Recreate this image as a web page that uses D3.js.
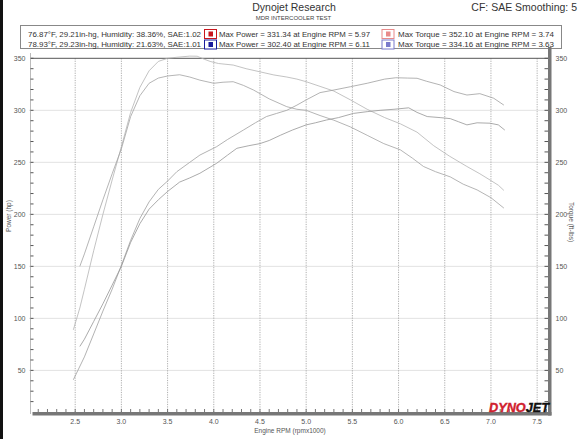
<!DOCTYPE html>
<html><head><meta charset="utf-8">
<script src="https://cdn.jsdelivr.net/npm/d3@7"></script>
<style>body{margin:0;background:#fff}svg{display:block}</style>
</head><body>
<svg id="c" width="580" height="439"></svg>
<script>
// ---- data ----
const run1TorqueRpm = [2.48,2.55,2.6,2.7,2.8,2.9,3.0,3.1,3.2,3.3,3.4,3.5,3.6,3.74,3.82,3.9,3.96,4.05,4.21,4.35,4.5,4.65,4.79,4.9,5.0,5.15,5.3,5.48,5.66,5.85,6.02,6.2,6.38,6.55,6.74,6.88,6.99,7.08,7.14];
const run1Torque    = [89,110,128,165,200,233,265,298,322,338,347,350,351,352.1,352,349,347,345,343.5,340,337,334,332,330,327.5,323,318.5,310,301,293,287,279,266,256,246,239,233,228,223];
const run1PowerRpm  = [2.48,2.6,2.7,2.8,2.9,3.0,3.1,3.2,3.3,3.4,3.5,3.6,3.74,3.85,4.03,4.15,4.32,4.45,4.57,4.68,4.79,4.9,5.0,5.15,5.3,5.48,5.66,5.85,5.97,6.1,6.2,6.3,6.45,6.6,6.74,6.88,7.03,7.14];
const run1Power     = [41,63,85,107,128,151,175,196,212,224,232,241,250,257,265,272,281,288,294,297,300,305,310,317,319.5,322.7,326,330,331.3,331,330.8,328,324.4,318,314.7,316,311.6,305];
const run2TorqueRpm = [2.55,2.6,2.7,2.8,2.9,3.0,3.1,3.2,3.3,3.4,3.5,3.63,3.74,3.85,4.0,4.1,4.21,4.32,4.43,4.6,4.79,4.9,5.0,5.15,5.3,5.48,5.66,5.84,6.02,6.15,6.27,6.4,6.56,6.7,6.85,7.0,7.14];
const run2Torque    = [150,162,188,214,239,263,294,314,326,331,333,334.2,332,329,326,327,327.5,324,319.5,311,303.5,301,300,295,290.5,284,276,268,262,254,246,241,236,229,223.5,216,206];
const run2PowerRpm  = [2.55,2.6,2.7,2.8,2.9,3.0,3.1,3.2,3.3,3.4,3.5,3.63,3.74,3.85,4.03,4.15,4.25,4.38,4.5,4.6,4.72,4.85,5.0,5.1,5.22,5.35,5.51,5.66,5.8,5.95,6.11,6.2,6.31,6.45,6.56,6.65,6.74,6.85,6.99,7.08,7.15];
const run2Power     = [73,80,97,114,132,150,173,191,205,214,222,231,235,239.5,249,257,263.5,266,268,271,276,281,286,288,290.7,293,297,298.7,300,301,302.4,298,294,293,292,289,286,288,287.6,286,281];
const xTicks = [2.5,3.0,3.5,4.0,4.5,5.0,5.5,6.0,6.5,7.0,7.5];
const yTicks = [50,100,150,200,250,300,350];
const legendConditions = ["76.87°F, 29.21in-hg, Humidity: 38.36%, SAE:1.02","78.93°F, 29.23in-hg, Humidity: 21.63%, SAE:1.01"];
const legendPower = ["Max Power = 331.34 at Engine RPM = 5.97","Max Power = 302.40 at Engine RPM = 6.11"];
const legendTorque = ["Max Torque = 352.10 at Engine RPM = 3.74","Max Torque = 334.16 at Engine RPM = 3.63"];
const powerColors = ["#c8161d","#1a1a9c"];
const torqueColors = ["#e88a8a","#7a7acc"];

const svg = d3.select("#c");
const F = "'Liberation Sans', Arial, sans-serif";
const x = d3.scaleLinear().domain([2.0,7.65]).range([29,551]);
const y = d3.scaleLinear().domain([10,350]).range([412,58.3]);

// frame strip
svg.append("rect").attr("x",0).attr("y",0).attr("width",3).attr("height",439).attr("fill","#111");

// header
svg.append("text").attr("x",294).attr("y",10.5).attr("text-anchor","middle").attr("font-family",F).attr("font-size",10.5).attr("fill","#333").text("Dynojet Research");
svg.append("text").attr("x",293.5).attr("y",19.5).attr("text-anchor","middle").attr("font-family",F).attr("font-size",6).attr("fill","#444").text("MDR INTERCOOLER TEST");
svg.append("text").attr("x",577).attr("y",10.5).attr("text-anchor","end").attr("font-family",F).attr("font-size",10.5).attr("fill","#333").text("CF: SAE Smoothing: 5");

// legend
svg.append("rect").attr("x",20.5).attr("y",25.5).attr("width",541).attr("height",23).attr("fill","#fff").attr("stroke","#888");
[0,1].forEach(i=>{
  const cy = 34 + i*10.5;
  svg.append("text").attr("x",28).attr("y",cy+2.5).attr("font-family",F).attr("font-size",7.3).attr("fill","#333")
    .attr("textLength",173).attr("lengthAdjust","spacingAndGlyphs").text(legendConditions[i]);
  [[204.5,powerColors[i],legendPower[i],219,151],[382,torqueColors[i],legendTorque[i],398,156]].forEach(([bx,col,txt,tx,tl])=>{
    svg.append("rect").attr("x",bx).attr("y",cy-4.5).attr("width",12).attr("height",9).attr("fill","#fff").attr("stroke",col).attr("stroke-width",1);
    svg.append("rect").attr("x",bx+4).attr("y",cy-2.5).attr("width",4.5).attr("height",5).attr("fill",col);
    svg.append("text").attr("x",tx).attr("y",cy+2.5).attr("font-family",F).attr("font-size",7.3).attr("fill","#333")
      .attr("textLength",tl).attr("lengthAdjust","spacingAndGlyphs").text(txt);
  });
});

// horizontal gridlines
svg.append("g").selectAll("line").data(yTicks.filter(v=>v<350)).join("line")
  .attr("x1",x(2.0)).attr("x2",x(7.65)).attr("y1",d=>y(d)).attr("y2",d=>y(d))
  .attr("stroke","#e2e2e2").attr("stroke-width",1);
// vertical dotted gridlines
svg.append("g").selectAll("line").data(xTicks).join("line")
  .attr("x1",d=>x(d)).attr("x2",d=>x(d)).attr("y1",y(350)).attr("y2",y(10))
  .attr("stroke","#999").attr("stroke-width",0.8).attr("stroke-dasharray","1.2,1.2");
// top line at 350
svg.append("line").attr("x1",x(2.0)+1).attr("x2",x(7.65)).attr("y1",y(350)).attr("y2",y(350)).attr("stroke","#555").attr("stroke-width",1);

// curves
const line = d3.line().x(d=>x(d[0])).y(d=>y(d[1]));
const zip = (a,b)=>a.map((v,i)=>[v,b[i]]);
const series = [
  [zip(run1TorqueRpm,run1Torque),"#b4b4b4",0.8],
  [zip(run2TorqueRpm,run2Torque),"#a2a2a2",0.8],
  [zip(run1PowerRpm,run1Power),"#a0a0a0",0.8],
  [zip(run2PowerRpm,run2Power),"#959595",0.8]
];
series.forEach(([d,c,w])=>{
  svg.append("path").datum(d).attr("d",line).attr("fill","none").attr("stroke",c).attr("stroke-width",w);
});

// left axis
svg.append("line").attr("x1",30.5).attr("x2",30.5).attr("y1",53).attr("y2",414).attr("stroke","#bbb").attr("stroke-width",1);
const minorY = d3.range(20,351,10);
svg.append("g").selectAll("line").data(minorY).join("line")
  .attr("x1",30.5).attr("x2",33.5).attr("y1",d=>y(d)).attr("y2",d=>y(d)).attr("stroke","#555").attr("stroke-width",1);
svg.append("g").selectAll("text").data(yTicks).join("text")
  .attr("x",25.5).attr("y",d=>y(d)+2.5).attr("text-anchor","end").attr("font-family",F).attr("font-size",7).attr("fill","#555").text(d=>d);
svg.append("text").attr("transform",`translate(10.5,216) rotate(-90)`).attr("text-anchor","middle").attr("font-family",F).attr("font-size",6.5).attr("fill","#555").text("Power (hp)");

// right axis
svg.append("g").selectAll("line").data(minorY).join("line")
  .attr("x1",544.5).attr("x2",548).attr("y1",d=>y(d)).attr("y2",d=>y(d)).attr("stroke","#555").attr("stroke-width",1);
svg.append("rect").attr("x",548).attr("y",47).attr("width",3.5).attr("height",368.5).attr("fill","#777");
svg.append("g").selectAll("text").data(yTicks).join("text")
  .attr("x",555.5).attr("y",d=>y(d)+2.5).attr("font-family",F).attr("font-size",7).attr("fill","#555").text(d=>d);
svg.append("text").attr("transform",`translate(569,222) rotate(90)`).attr("text-anchor","middle").attr("font-family",F).attr("font-size",6.5).attr("fill","#555").text("Torque (ft-lbs)");

// bottom axis
const minorX = d3.range(21,77,1).map(v=>v/10);
svg.append("g").selectAll("line").data(minorX).join("line")
  .attr("x1",d=>x(d)).attr("x2",d=>x(d)).attr("y1",409).attr("y2",412.5).attr("stroke","#666").attr("stroke-width",0.9);
svg.append("rect").attr("x",32.5).attr("y",412).attr("width",519).attr("height",3.5).attr("fill","#777");
svg.append("g").selectAll("text").data(xTicks).join("text")
  .attr("x",d=>x(d)).attr("y",424).attr("text-anchor","middle").attr("font-family",F).attr("font-size",7).attr("fill","#555").text(d=>d.toFixed(1));
svg.append("text").attr("x",290).attr("y",432.5).attr("text-anchor","middle").attr("font-family",F).attr("font-size",6.5).attr("fill","#555").text("Engine RPM (rpmx1000)");

// logo
const logo = svg.append("text").attr("x",489).attr("y",412).attr("font-family",F).attr("font-size",13).attr("font-weight","900").attr("font-style","italic")
  .attr("textLength",60).attr("lengthAdjust","spacingAndGlyphs").attr("stroke-width",0.4);
logo.append("tspan").attr("fill","#d0202e").attr("stroke","#d0202e").text("DYNO");
logo.append("tspan").attr("fill","#111").attr("stroke","#111").text("JET");
</script>
</body></html>
